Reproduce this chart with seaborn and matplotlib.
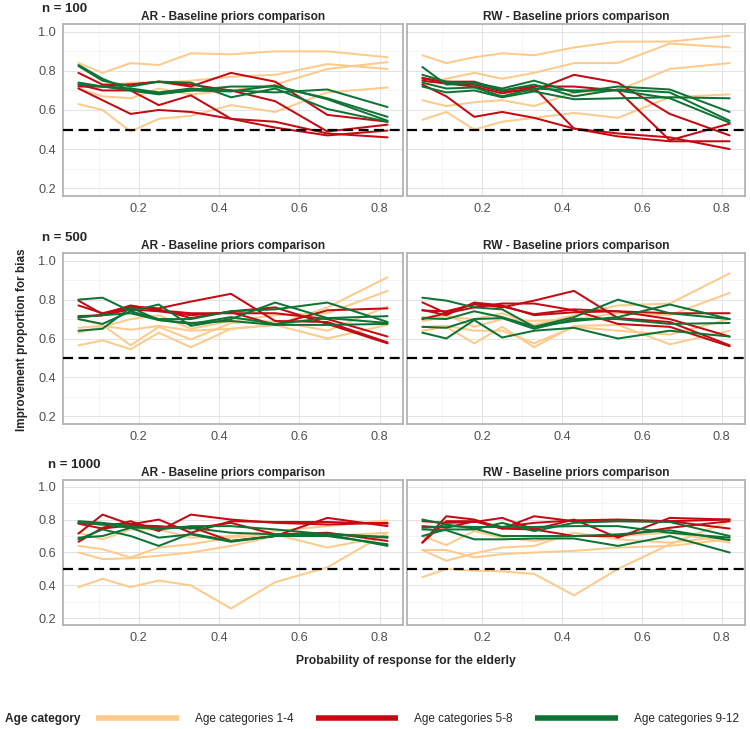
import matplotlib
matplotlib.use('Agg')
import matplotlib.pyplot as plt
import seaborn as sns
import pandas as pd
from matplotlib import font_manager

# probability of response for the elderly (x axis)
p_elderly = [0.05, 0.11, 0.18, 0.25, 0.33, 0.43, 0.54, 0.67, 0.82]
groups = ['Age categories 1-4', 'Age categories 5-8', 'Age categories 9-12']

# AR, n = 100
ar100_14 = [[0.84, 0.79, 0.84, 0.83, 0.89, 0.885, 0.90, 0.90, 0.87],
            [0.74, 0.72, 0.74, 0.74, 0.75, 0.77, 0.78, 0.835, 0.81],
            [0.71, 0.67, 0.66, 0.71, 0.68, 0.70, 0.73, 0.81, 0.845],
            [0.63, 0.60, 0.49, 0.555, 0.57, 0.625, 0.59, 0.69, 0.715]]
ar100_58 = [[0.79, 0.73, 0.73, 0.745, 0.72, 0.79, 0.745, 0.575, 0.54],
            [0.71, 0.65, 0.58, 0.60, 0.59, 0.555, 0.54, 0.48, 0.46],
            [0.72, 0.72, 0.73, 0.745, 0.73, 0.70, 0.645, 0.49, 0.525],
            [0.73, 0.70, 0.70, 0.625, 0.675, 0.555, 0.51, 0.47, 0.495]]
ar100_912 = [[0.83, 0.76, 0.70, 0.68, 0.70, 0.72, 0.72, 0.66, 0.565],
             [0.825, 0.75, 0.72, 0.745, 0.74, 0.665, 0.71, 0.605, 0.54],
             [0.74, 0.72, 0.71, 0.69, 0.71, 0.70, 0.69, 0.705, 0.615],
             [0.73, 0.72, 0.70, 0.685, 0.70, 0.695, 0.725, 0.655, 0.545]]

# RW, n = 100
rw100_14 = [[0.88, 0.84, 0.87, 0.89, 0.88, 0.92, 0.95, 0.95, 0.98],
            [0.73, 0.76, 0.79, 0.76, 0.79, 0.84, 0.84, 0.94, 0.92],
            [0.65, 0.62, 0.64, 0.65, 0.62, 0.69, 0.70, 0.81, 0.84],
            [0.55, 0.59, 0.50, 0.54, 0.56, 0.585, 0.56, 0.665, 0.68]]
rw100_58 = [[0.765, 0.74, 0.73, 0.695, 0.70, 0.78, 0.74, 0.58, 0.47],
            [0.73, 0.67, 0.565, 0.59, 0.56, 0.505, 0.48, 0.46, 0.40],
            [0.76, 0.745, 0.745, 0.70, 0.72, 0.72, 0.70, 0.445, 0.53],
            [0.75, 0.735, 0.72, 0.685, 0.715, 0.505, 0.465, 0.44, 0.44]]
rw100_912 = [[0.82, 0.73, 0.74, 0.71, 0.75, 0.69, 0.72, 0.705, 0.59],
             [0.78, 0.745, 0.735, 0.70, 0.73, 0.67, 0.705, 0.69, 0.545],
             [0.74, 0.71, 0.715, 0.67, 0.71, 0.70, 0.70, 0.66, 0.535],
             [0.72, 0.69, 0.70, 0.665, 0.695, 0.655, 0.66, 0.665, 0.66]]

# AR, n = 500
ar500_14 = [[0.655, 0.665, 0.645, 0.665, 0.64, 0.65, 0.67, 0.76, 0.915],
            [0.63, 0.66, 0.70, 0.72, 0.65, 0.69, 0.72, 0.73, 0.845],
            [0.565, 0.59, 0.545, 0.63, 0.555, 0.65, 0.67, 0.60, 0.67],
            [0.70, 0.67, 0.565, 0.66, 0.595, 0.68, 0.69, 0.64, 0.765]]
ar500_58 = [[0.77, 0.73, 0.765, 0.755, 0.79, 0.83, 0.69, 0.685, 0.58],
            [0.795, 0.725, 0.77, 0.745, 0.73, 0.73, 0.73, 0.70, 0.61],
            [0.715, 0.72, 0.76, 0.75, 0.705, 0.74, 0.76, 0.675, 0.575],
            [0.71, 0.72, 0.75, 0.74, 0.72, 0.735, 0.67, 0.745, 0.755]]
ar500_912 = [[0.80, 0.81, 0.74, 0.775, 0.665, 0.70, 0.785, 0.705, 0.68],
             [0.70, 0.675, 0.74, 0.70, 0.70, 0.74, 0.75, 0.785, 0.685],
             [0.64, 0.65, 0.76, 0.695, 0.675, 0.71, 0.675, 0.705, 0.715],
             [0.71, 0.72, 0.73, 0.695, 0.68, 0.69, 0.67, 0.67, 0.675]]

# RW, n = 500
rw500_14 = [[0.69, 0.71, 0.70, 0.73, 0.67, 0.72, 0.77, 0.78, 0.935],
            [0.71, 0.72, 0.66, 0.70, 0.69, 0.70, 0.73, 0.72, 0.835],
            [0.64, 0.66, 0.575, 0.66, 0.555, 0.665, 0.67, 0.57, 0.64],
            [0.66, 0.665, 0.64, 0.64, 0.575, 0.66, 0.64, 0.62, 0.70]]
rw500_58 = [[0.786, 0.73, 0.78, 0.76, 0.795, 0.845, 0.705, 0.685, 0.565],
            [0.747, 0.72, 0.785, 0.77, 0.72, 0.735, 0.74, 0.73, 0.73],
            [0.744, 0.74, 0.775, 0.765, 0.725, 0.75, 0.74, 0.70, 0.61],
            [0.70, 0.73, 0.76, 0.78, 0.78, 0.745, 0.675, 0.66, 0.56]]
rw500_912 = [[0.81, 0.795, 0.76, 0.75, 0.66, 0.71, 0.80, 0.73, 0.70],
             [0.705, 0.70, 0.74, 0.71, 0.66, 0.69, 0.71, 0.775, 0.70],
             [0.66, 0.655, 0.70, 0.705, 0.65, 0.70, 0.70, 0.675, 0.68],
             [0.63, 0.60, 0.695, 0.605, 0.64, 0.655, 0.60, 0.64, 0.61]]

# AR, n = 1000
ar1000_14 = [[0.39, 0.44, 0.39, 0.43, 0.40, 0.26, 0.42, 0.51, 0.72],
             [0.60, 0.56, 0.565, 0.58, 0.60, 0.64, 0.70, 0.70, 0.72],
             [0.64, 0.62, 0.57, 0.63, 0.65, 0.69, 0.71, 0.63, 0.70],
             [0.72, 0.68, 0.74, 0.74, 0.69, 0.70, 0.73, 0.76, 0.795]]
ar1000_58 = [[0.715, 0.83, 0.77, 0.80, 0.72, 0.79, 0.785, 0.785, 0.775],
             [0.665, 0.75, 0.79, 0.73, 0.83, 0.80, 0.78, 0.77, 0.78],
             [0.78, 0.77, 0.775, 0.75, 0.755, 0.67, 0.70, 0.81, 0.76],
             [0.775, 0.745, 0.765, 0.76, 0.745, 0.78, 0.71, 0.72, 0.67]]
ar1000_912 = [[0.79, 0.78, 0.76, 0.74, 0.76, 0.76, 0.74, 0.71, 0.64],
              [0.78, 0.77, 0.75, 0.75, 0.75, 0.72, 0.71, 0.71, 0.695],
              [0.69, 0.70, 0.75, 0.69, 0.71, 0.665, 0.70, 0.70, 0.65],
              [0.68, 0.74, 0.70, 0.64, 0.715, 0.67, 0.70, 0.715, 0.69]]

# RW, n = 1000
rw1000_14 = [[0.45, 0.50, 0.49, 0.485, 0.47, 0.34, 0.50, 0.65, 0.79],
             [0.615, 0.55, 0.595, 0.63, 0.64, 0.72, 0.68, 0.66, 0.70],
             [0.615, 0.615, 0.57, 0.59, 0.60, 0.61, 0.63, 0.64, 0.68],
             [0.70, 0.645, 0.73, 0.69, 0.67, 0.70, 0.70, 0.72, 0.66]]
rw1000_58 = [[0.66, 0.82, 0.80, 0.745, 0.82, 0.79, 0.79, 0.79, 0.80],
             [0.79, 0.78, 0.785, 0.81, 0.74, 0.80, 0.69, 0.81, 0.80],
             [0.76, 0.75, 0.79, 0.745, 0.74, 0.70, 0.70, 0.75, 0.79],
             [0.66, 0.79, 0.79, 0.755, 0.78, 0.795, 0.80, 0.79, 0.745]]
rw1000_912 = [[0.80, 0.77, 0.745, 0.70, 0.70, 0.70, 0.71, 0.735, 0.675],
              [0.74, 0.735, 0.68, 0.68, 0.685, 0.685, 0.64, 0.70, 0.60],
              [0.70, 0.74, 0.74, 0.78, 0.73, 0.78, 0.79, 0.785, 0.70],
              [0.75, 0.76, 0.755, 0.755, 0.755, 0.76, 0.76, 0.72, 0.69]]

panels = {(100, 'AR'): [ar100_14, ar100_58, ar100_912],
          (100, 'RW'): [rw100_14, rw100_58, rw100_912],
          (500, 'AR'): [ar500_14, ar500_58, ar500_912],
          (500, 'RW'): [rw500_14, rw500_58, rw500_912],
          (1000, 'AR'): [ar1000_14, ar1000_58, ar1000_912],
          (1000, 'RW'): [rw1000_14, rw1000_58, rw1000_912]}

rows = []
for (n, model), series in panels.items():
    for g, lines in zip(groups, series):
        for k, vals in enumerate(lines):
            for p, v in zip(p_elderly, vals):
                rows.append(dict(n=n, model=model, group=g, line=f'{g}-{k}', p=p, value=v))
df = pd.DataFrame(rows)

sns.set_style('white')
names = {f.name for f in font_manager.fontManager.ttflist}
fam = 'Liberation Sans Narrow' if 'Liberation Sans Narrow' in names else 'Liberation Sans'
plt.rcParams['font.family'] = [fam, 'DejaVu Sans']

palette = dict(zip(groups, ['#FCCB8C', '#C40A12', '#0E7436']))

W, H = 750, 729
fig = plt.figure(figsize=(W / 100, H / 100), dpi=100)

def rect(l, t, r, b):
    return [l / W, 1 - b / H, (r - l) / W, (b - t) / H]

row_pos = {100: (24, 196), 500: (253, 424), 1000: (480, 625)}
col_pos = {'AR': (63, 403), 'RW': (407, 745)}
tag_pos = {100: (42, 9), 500: (42, 238), 1000: (48, 465)}

handles, labels = None, None
for (n, model) in panels:
    t, b = row_pos[n]
    l, r = col_pos[model]
    ax = fig.add_axes(rect(l, t, r, b))
    sub = df[(df.n == n) & (df.model == model)]
    sns.lineplot(data=sub, x='p', y='value', hue='group', units='line',
                 estimator=None, palette=palette, hue_order=groups,
                 lw=1.45, ax=ax, legend=handles is None)
    if handles is None:
        handles, labels = ax.get_legend_handles_labels()
        ax.get_legend().remove()
    ax.axhline(0.5, color='black', ls=(0, (4.5, 2.5)), lw=1.6, zorder=5)
    ax.set_xlim(0.0115, 0.8585)
    ax.set_ylim(0.16, 1.04)
    ax.set_xticks([0.2, 0.4, 0.6, 0.8])
    ax.set_xticks([0.1, 0.3, 0.5, 0.7], minor=True)
    ax.set_yticks([0.2, 0.4, 0.6, 0.8, 1.0])
    ax.set_yticks([0.3, 0.5, 0.7, 0.9], minor=True)
    ax.grid(which='major', color='#E3E3E3', lw=0.7)
    ax.grid(which='minor', color='#F1F1F1', lw=0.5)
    ax.set_axisbelow(True)
    for s in ax.spines.values():
        s.set_color('#B3B3B3')
        s.set_linewidth(1.3)
    ax.tick_params(which='major', length=3, width=0.6, color='#555555',
                   labelsize=9.2, labelcolor='#505050', pad=2)
    ax.tick_params(which='minor', length=0)
    ax.set_xlabel('')
    ax.set_ylabel('')
    if model == 'RW':
        ax.tick_params(axis='y', left=False, labelleft=False)
    else:
        ax.set_yticklabels(['0.2', '0.4', '0.6', '0.8', '1.0'])
        x0, y0 = tag_pos[n]
        fig.text(x0 / W, 1 - y0 / H, f'n = {n}', fontweight='bold', fontsize=9.5,
                 ha='left', va='center')
    ax.set_title(f'{model} - Baseline priors comparison', fontweight='bold',
                 fontsize=8.6, pad=3)

fig.text(22 / W, 1 - 340 / H, 'Improvement proportion for bias', rotation=90,
         fontweight='bold', fontsize=8.5, ha='center', va='center')
fig.text(406 / W, 1 - 661 / H, 'Probability of response for the elderly',
         fontweight='bold', fontsize=8.7, ha='center', va='center')

fig.text(5 / W, 1 - 719 / H, 'Age category', fontweight='bold', fontsize=8.6,
         ha='left', va='center')
leg = fig.legend(handles, labels, loc='center left', bbox_to_anchor=(96 / W, 1 - 719 / H),
                 ncol=3, frameon=False, handlelength=7.0, handletextpad=1.35,
                 columnspacing=1.9, borderpad=0, borderaxespad=0, fontsize=8.5)
for h in leg.legend_handles:
    h.set_linewidth(4)
    h.set_solid_capstyle('butt')

fig.savefig('out.png', dpi=100)
